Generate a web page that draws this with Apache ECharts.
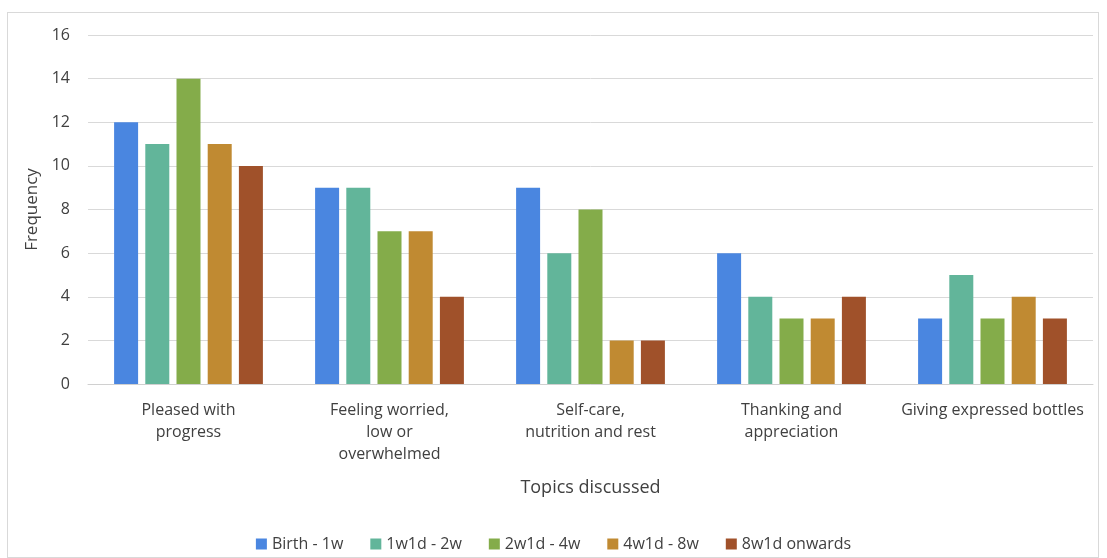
<!DOCTYPE html>
<html><head><meta charset="utf-8">
<script src="https://cdn.jsdelivr.net/npm/echarts@6/dist/echarts.min.js"></script>
<style>html,body{margin:0;padding:0;background:#fff;}#c{width:1107px;height:558px;}
#frame{position:absolute;left:7px;top:12px;width:1092px;height:546px;border:1px solid #d9d9d9;box-sizing:border-box;pointer-events:none;}</style>
</head><body><div id="c"></div><div id="frame"></div>
<script>
const categories = ['Pleased with\nprogress', 'Feeling worried,\nlow or\noverwhelmed', 'Self-care,\nnutrition and rest', 'Thanking and\nappreciation', 'Giving expressed bottles'];
const seriesNames = ['Birth - 1w', '1w1d - 2w', '2w1d - 4w', '4w1d - 8w', '8w1d onwards'];
const birth1w = [12, 9, 9, 6, 3];
const w1d2w = [11, 9, 6, 4, 5];
const w2d4w = [14, 7, 8, 3, 3];
const w4d8w = [11, 7, 2, 3, 4];
const w8onwards = [10, 4, 2, 4, 3];
const yTicks = [0, 2, 4, 6, 8, 10, 12, 14, 16];
const colors = ['#4A86E0', '#62B59A', '#84AC4A', '#C08A32', '#A0512A'];
const values = [birth1w, w1d2w, w2d4w, w4d8w, w8onwards];
const font = '"Open Sans", Lato, sans-serif';
const chart = echarts.init(document.getElementById('c'));
chart.setOption({
  animation: false,
  textStyle: {fontFamily: font},
  color: colors,
  grid: {left: 88, right: 14, top: 35, bottom: 174},
  legend: {
    bottom: 1, left: 'center', itemWidth: 11, itemHeight: 11, itemGap: 27,
    icon: 'rect',
    textStyle: {fontSize: 16, color: '#404040', fontFamily: font},
    data: seriesNames
  },
  xAxis: {
    type: 'category', data: categories,
    name: 'Topics discussed', nameLocation: 'middle', nameGap: 95,
    nameTextStyle: {fontSize: 18, color: '#404040'},
    axisTick: {show: false},
    axisLine: {lineStyle: {color: '#d0d0d0', width: 1}},
    axisLabel: {fontSize: 16, color: '#404040', margin: 15, lineHeight: 22, interval: 0}
  },
  yAxis: {
    type: 'value', min: yTicks[0], max: yTicks[yTicks.length - 1], interval: 2,
    name: 'Frequency', nameLocation: 'middle', nameGap: 47,
    nameTextStyle: {fontSize: 17, color: '#404040'},
    axisLine: {show: false}, axisTick: {show: false},
    axisLabel: {fontSize: 16, color: '#404040', margin: 18},
    splitLine: {lineStyle: {color: '#d9d9d9', width: 1}}
  },
  series: seriesNames.map((n, i) => ({
    name: n, type: 'bar', data: values[i], barWidth: 24, barGap: '30%',
    itemStyle: {color: colors[i]}
  }))
});
</script></body></html>
